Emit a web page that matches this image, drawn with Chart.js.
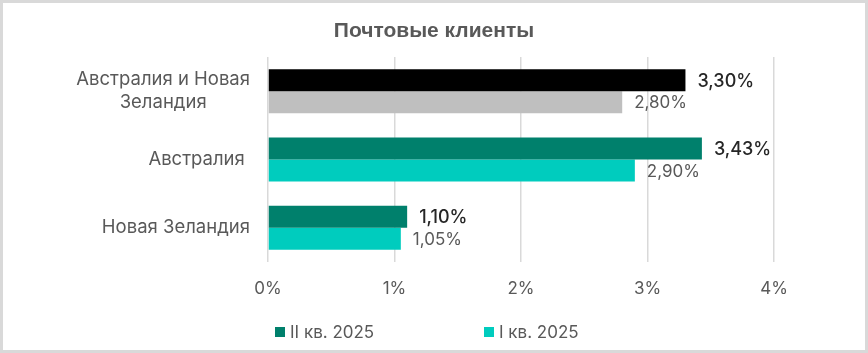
<!DOCTYPE html>
<html><head><meta charset="utf-8">
<script src="https://cdn.jsdelivr.net/npm/chart.js@4"></script>
<style>html,body{margin:0;padding:0;background:#fff}#wrap{width:868px;height:353px;position:relative}</style>
</head><body><div id="wrap"><canvas id="c" width="868" height="353"></canvas></div>
<script>
const title = 'Почтовые клиенты';
const categories = [['Австралия и Новая', 'Зеландия'], ['Австралия '], ['Новая Зеландия']];
const seriesNames = ['II кв. 2025', 'I кв. 2025'];
const q2Values = [3.30, 3.43, 1.10];
const q1Values = [2.80, 2.90, 1.05];
const xTicks = [0, 1, 2, 3, 4];

const FONT = 'Inter, "Noto Sans", sans-serif';
const fmt = v => v.toFixed(2).replace('.', ',') + '%';

const customPlugin = {
  id: 'custom',
  beforeDraw(chart) {
    const ctx = chart.ctx;
    ctx.save();
    ctx.fillStyle = '#fff';
    ctx.fillRect(0, 0, chart.width, chart.height);
    ctx.strokeStyle = '#d9d9d9';
    ctx.lineWidth = 3;
    ctx.strokeRect(1.5, 1.5, chart.width - 3, chart.height - 3);
    ctx.restore();
  },
  afterDraw(chart) {
    const ctx = chart.ctx;
    ctx.save();
    ctx.font = 'bold 21px "Liberation Sans Narrow", "Arial Narrow", sans-serif';
    ctx.fillStyle = '#595959';
    ctx.textAlign = 'center';
    ctx.textBaseline = 'middle';
    ctx.fillText(title, 434, 31);
    const y = chart.scales.y;
    ctx.font = '18.5px ' + FONT;
    ctx.fillStyle = '#595959';
    const lh = 23;
    categories.forEach((lines, i) => {
      const cy = y.getPixelForValue(i);
      const w = Math.max(...lines.map(l => ctx.measureText(l).width));
      const right = 250;
      const cx = right - w / 2;
      ctx.textAlign = 'center';
      lines.forEach((l, k) => {
        ctx.fillText(l, cx, cy + (k - (lines.length - 1) / 2) * lh);
      });
    });
    chart.data.datasets.forEach((ds, di) => {
      const meta = chart.getDatasetMeta(di);
      meta.data.forEach((bar, i) => {
        ctx.textAlign = 'left';
        if (di === 0) { ctx.font = '500 18px ' + FONT; ctx.fillStyle = '#262626'; }
        else { ctx.font = '17px ' + FONT; ctx.fillStyle = '#595959'; }
        ctx.fillText(fmt(ds.data[i]), bar.x + 12, bar.y + 1);
      });
    });
    const legendColors = ['#00806c', '#00ccbe'];
    const legendX = [275, 484];
    ctx.font = '17px ' + FONT;
    seriesNames.forEach((n, i) => {
      ctx.fillStyle = legendColors[i];
      ctx.fillRect(legendX[i], 327, 10, 10);
      ctx.fillStyle = '#595959';
      ctx.textAlign = 'left';
      ctx.fillText(n, legendX[i] + 15, 333);
    });
    ctx.restore();
  }
};

new Chart(document.getElementById('c'), {
  type: 'bar',
  data: {
    labels: categories.map(l => l.join(' ')),
    datasets: [
      { label: seriesNames[0], data: q2Values, backgroundColor: ['#000000', '#00806c', '#00806c'] },
      { label: seriesNames[1], data: q1Values, backgroundColor: ['#bfbfbf', '#00ccbe', '#00ccbe'] }
    ]
  },
  options: {
    indexAxis: 'y',
    responsive: false,
    animation: false,
    devicePixelRatio: 1,
    layout: { padding: { left: 268, right: 94, top: 57, bottom: 0 } },
    categoryPercentage: 0.645,
    barPercentage: 1,
    plugins: { legend: { display: false }, title: { display: false }, tooltip: { enabled: false } },
    scales: {
      y: { display: false },
      x: {
        min: xTicks[0], max: xTicks[xTicks.length - 1],
        afterBuildTicks: s => { s.ticks = xTicks.map(v => ({ value: v })); },
        afterFit: s => { s.height = 91; },
        border: { display: false },
        grid: { color: '#d9d9d9', lineWidth: 1.5, drawTicks: false },
        ticks: { padding: 17, color: '#595959', font: { family: FONT, size: 17 }, callback: v => v + '%' }
      }
    }
  },
  plugins: [customPlugin]
});
</script></body></html>
